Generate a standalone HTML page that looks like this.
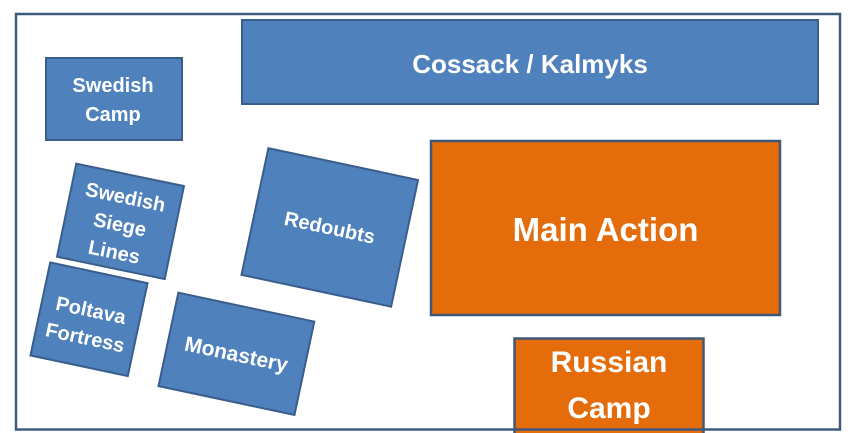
<!DOCTYPE html>
<html>
<head>
<meta charset="utf-8">
<style>
  html, body { margin: 0; padding: 0; background: #ffffff; }
  body { width: 856px; height: 433px; overflow: hidden; }
  svg { display: block; }
  text { font-family: "Liberation Sans", "DejaVu Sans", sans-serif; font-weight: bold; fill: #ffffff; text-anchor: middle; }
</style>
</head>
<body>
<svg width="856" height="433" viewBox="0 0 856 433" xmlns="http://www.w3.org/2000/svg">
  <rect x="0" y="0" width="856" height="433" fill="#ffffff"/>

  <!-- Cossack / Kalmyks -->
  <rect x="242" y="20" width="576" height="84" fill="#4f81bd" stroke="#3a5e8c" stroke-width="2"/>
  <text x="530" y="73" font-size="26">Cossack / Kalmyks</text>

  <!-- Swedish Camp -->
  <rect x="46" y="58" width="136" height="82" fill="#4f81bd" stroke="#3a5e8c" stroke-width="2"/>
  <text x="113" y="92" font-size="20">Swedish</text>
  <text x="113" y="121" font-size="20">Camp</text>

  <!-- Swedish Siege Lines -->
  <g transform="translate(120.5,221.4) rotate(11.7)">
    <rect x="-55" y="-47.5" width="110" height="95" fill="#4f81bd" stroke="#3a5e8c" stroke-width="2"/>
    <text x="0" y="-18" font-size="20">Swedish</text>
    <text x="0" y="10" font-size="20">Siege</text>
    <text x="0" y="38" font-size="20">Lines</text>
  </g>

  <!-- Poltava Fortress -->
  <g transform="translate(89,319.3) rotate(12)">
    <rect x="-49.75" y="-47.5" width="99.5" height="95" fill="#4f81bd" stroke="#3a5e8c" stroke-width="2"/>
    <text x="0" y="-2.5" font-size="20">Poltava</text>
    <text x="0" y="25.5" font-size="20">Fortress</text>
  </g>

  <!-- Redoubts -->
  <g transform="translate(329.75,227.4) rotate(12)">
    <rect x="-76.5" y="-64.75" width="153" height="129.5" fill="#4f81bd" stroke="#3a5e8c" stroke-width="2"/>
    <text x="0" y="7" font-size="20">Redoubts</text>
  </g>

  <!-- Monastery -->
  <g transform="translate(236.4,353.85) rotate(12)">
    <rect x="-69.5" y="-47.7" width="139" height="95.4" fill="#4f81bd" stroke="#3a5e8c" stroke-width="2"/>
    <text x="0" y="7.5" font-size="21">Monastery</text>
  </g>

  <!-- Main Action -->
  <rect x="431" y="141" width="349" height="174" fill="#e46c0a" stroke="#3f5877" stroke-width="2.5"/>
  <text x="605.5" y="241" font-size="33">Main Action</text>

  <!-- Russian Camp -->
  <rect x="514.5" y="338.5" width="189" height="100" fill="#e46c0a" stroke="#3f5877" stroke-width="2.5"/>
  <text x="609" y="372" font-size="30">Russian</text>
  <text x="609" y="418" font-size="30">Camp</text>

  <!-- Outer frame -->
  <rect x="16" y="14" width="824" height="415.5" fill="none" stroke="#3e5a7f" stroke-width="2.5"/>
</svg>
</body>
</html>
